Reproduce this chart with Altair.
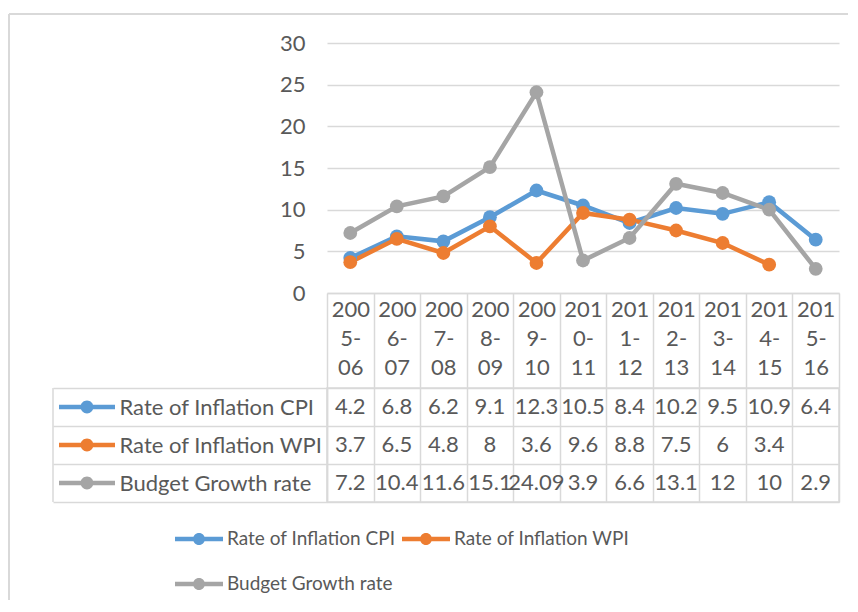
import altair as alt
import pandas as pd

# ---------------- data ----------------
years = ["2005-06", "2006-07", "2007-08", "2008-09", "2009-10", "2010-11",
         "2011-12", "2012-13", "2013-14", "2014-15", "2015-16"]
series_names = ["Rate of Inflation CPI", "Rate of Inflation WPI", "Budget Growth rate"]
cpi = [4.2, 6.8, 6.2, 9.1, 12.3, 10.5, 8.4, 10.2, 9.5, 10.9, 6.4]
wpi = [3.7, 6.5, 4.8, 8, 3.6, 9.6, 8.8, 7.5, 6, 3.4, None]
budget = [7.2, 10.4, 11.6, 15.1, 24.09, 3.9, 6.6, 13.1, 12, 10, 2.9]
colors = ["#5b9bd5", "#ed7d31", "#a5a5a5"]
y_ticks = [0, 5, 10, 15, 20, 25, 30]

rows = []
for name, vals in zip(series_names, [cpi, wpi, budget]):
    for yr, v in zip(years, vals):
        if v is not None:
            rows.append({"year": yr, "series": name, "value": v})
df = pd.DataFrame(rows)
sym_df = pd.DataFrame({"series": series_names})

# ---------------- style ----------------
FONT = "Lato"
TXT = "#595959"
GRID = "#d9d9d9"
FS = 22
LFS = 19
W, H = 512, 250
TBL_H = 114

LEG_PATH = ("M-1,-0.094L1,-0.094L1,0.094L-1,0.094Z "
            "M0.25,0A0.25,0.25 0 1,1 -0.25,0A0.25,0.25 0 1,1 0.25,0Z")
TBL_PATH = ("M-1,-0.08L1,-0.08L1,0.08L-1,0.08Z "
            "M0.23,0A0.23,0.23 0 1,1 -0.23,0A0.23,0.23 0 1,1 0.23,0Z")

color_scale = alt.Scale(domain=series_names, range=colors)
band = alt.Scale(type="band", paddingInner=0, paddingOuter=0)

# ---------------- line chart ----------------
xA = alt.X("year:N", sort=years, scale=band,
           axis=alt.Axis(title=None, orient="bottom", tickBand="extent", ticks=True,
                         tickSize=95, tickColor=GRID, tickWidth=1.5,
                         domain=True, domainColor=GRID, domainWidth=1.5, grid=False,
                         labelExpr="[slice(datum.label,0,3), slice(datum.label,3,5), slice(datum.label,5)]",
                         labelAngle=0, labelPadding=-89, labelBaseline="top",
                         labelLineHeight=29, labelFontSize=FS, labelColor=TXT,
                         labelFont=FONT, labelOverlap=False))
yA = alt.Y("value:Q", scale=alt.Scale(domain=[0, 30]),
           axis=alt.Axis(title=None, values=y_ticks, grid=True, gridColor=GRID,
                         gridWidth=1.5, ticks=False, domain=False, labelPadding=22,
                         labelFontSize=FS, labelColor=TXT, labelFont=FONT))

legend = alt.Legend(title=None, orient="none", legendX=-152, legendY=472,
                    direction="horizontal", columns=2, columnPadding=6, rowPadding=11,
                    symbolType=LEG_PATH, symbolSize=2304,
                    symbolStrokeWidth=0, symbolOpacity=1,
                    labelFontSize=LFS, labelFont=FONT, labelColor=TXT,
                    labelLimit=400, labelOffset=4)

base = alt.Chart(df)
lines = base.mark_line(strokeWidth=4.5).encode(
    x=xA, y=yA, color=alt.Color("series:N", scale=color_scale))
points = base.mark_point(filled=True, size=190, opacity=1).encode(
    x=xA, y=yA, color=alt.Color("series:N", scale=color_scale, legend=legend))

one = alt.Data(values=[{"k": 1}])
border_v = alt.Chart(one).mark_rule(color=GRID, strokeWidth=2).encode(
    x=alt.value(-318), y=alt.value(-29), y2=alt.value(557))
border_h = alt.Chart(one).mark_rule(color=GRID, strokeWidth=2).encode(
    x=alt.value(-318), x2=alt.value(521), y=alt.value(-29))

chartA = alt.layer(lines, points, border_v, border_h).properties(
    width=W, height=H, view=alt.ViewBackground(strokeWidth=0))

# ---------------- data table ----------------
xB = alt.X("year:N", sort=years, scale=band,
           axis=alt.Axis(title=None, labels=False, ticks=False, domain=False, grid=True,
                         gridColor=GRID, gridWidth=1.5, tickBand="extent"))
yB = alt.Y("series:N", sort=series_names, scale=band,
           axis=alt.Axis(title=None, orient="left", tickBand="extent", ticks=True,
                         tickSize=274, tickColor=GRID, tickWidth=1.5, domain=True,
                         domainColor=GRID, domainWidth=1.5, grid=True, gridColor=GRID,
                         gridWidth=1.5, labelAlign="left", labelPadding=-66,
                         labelFontSize=FS, labelColor=TXT, labelFont=FONT, labelLimit=300))

tbl_text = alt.Chart(df).mark_text(font=FONT, fontSize=FS, color=TXT).encode(
    x=xB, y=yB, text=alt.Text("value:N"))
tbl_sym = alt.Chart(sym_df).mark_point(shape=TBL_PATH, size=3136, filled=True, opacity=1).encode(
    x=alt.value(-240), y=yB, color=alt.Color("series:N", scale=color_scale))
tbl_left = alt.Chart(one).mark_rule(color=GRID, strokeWidth=1.5).encode(
    x=alt.value(-274), y=alt.value(0), y2=alt.value(TBL_H))

chartB = alt.layer(tbl_text, tbl_sym, tbl_left).properties(
    width=W, height=TBL_H, view=alt.ViewBackground(stroke=GRID, strokeWidth=1.5))

chart = alt.vconcat(chartA, chartB, spacing=95, bounds="flush").resolve_scale(
    x="independent", y="independent", color="shared"
).resolve_axis(x="independent", y="independent").properties(
    padding={"left": 0, "top": 5, "right": 0, "bottom": 0}
).configure(font=FONT)

chart.save("out.html", embed_options={"renderer": "svg", "actions": False})
